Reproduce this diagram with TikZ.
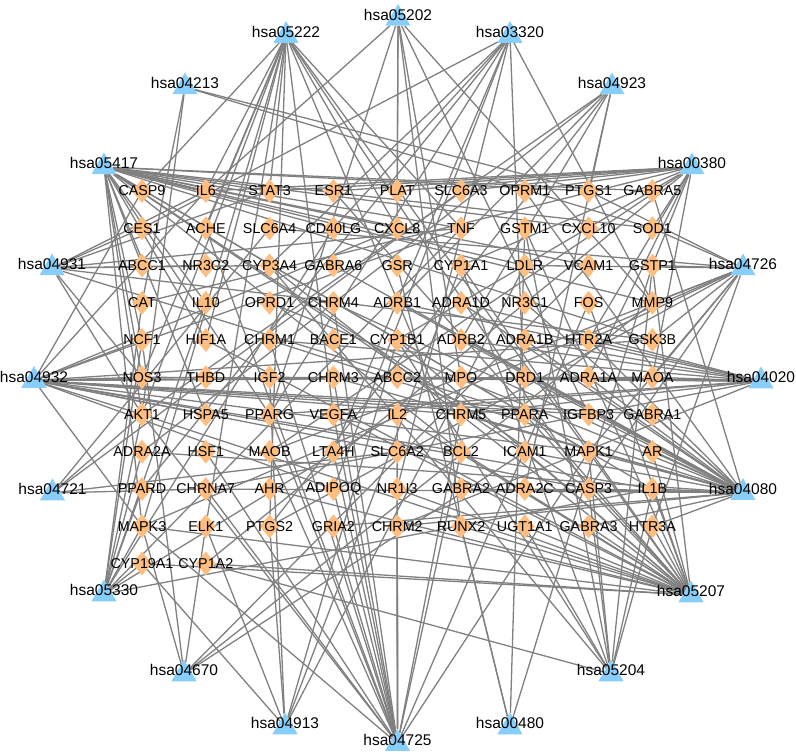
\documentclass[tikz,border=0pt]{standalone}
\usepackage{fontspec}
\setmainfont{Liberation Sans}
\usepackage{tikz}
\usetikzlibrary{shapes.geometric,backgrounds}
\definecolor{geneorange}{RGB}{253,190,128}
\definecolor{keggblue}{RGB}{135,206,250}
\colorlet{linkgray}{black!50}
\tikzstyle{gene}=[diamond,fill=geneorange,minimum width=20,minimum height=24,inner sep=0]
\tikzstyle{kegg}=[regular polygon,regular polygon sides=3,fill=keggblue,minimum size=29,inner sep=0]
\tikzstyle{genelabel}=[font=\fontsize{14.3}{14.3}\selectfont,inner sep=0]
\tikzstyle{kegglabel}=[font=\fontsize{15.5}{15.5}\selectfont,inner sep=0,yshift=3.6pt]
\tikzstyle{link}=[draw=linkgray,line width=1.3]

\begin{document}
\begin{tikzpicture}[x=1pt,y=-1pt]
\useasboundingbox (0,0) rectangle (796,754);

\foreach \generow [count=\r from 0] in {
    {CASP9,IL6,STAT3,ESR1,PLAT,SLC6A3,OPRM1,PTGS1,GABRA5},
    {CES1,ACHE,SLC6A4,CD40LG,CXCL8,TNF,GSTM1,CXCL10,SOD1},
    {ABCC1,NR3C2,CYP3A4,GABRA6,GSR,CYP1A1,LDLR,VCAM1,GSTP1},
    {CAT,IL10,OPRD1,CHRM4,ADRB1,ADRA1D,NR3C1,FOS,MMP9},
    {NCF1,HIF1A,CHRM1,BACE1,CYP1B1,ADRB2,ADRA1B,HTR2A,GSK3B},
    {NOS3,THBD,IGF2,CHRM3,ABCC2,MPO,DRD1,ADRA1A,MAOA},
    {AKT1,HSPA5,PPARG,VEGFA,IL2,CHRM5,PPARA,IGFBP3,GABRA1},
    {ADRA2A,HSF1,MAOB,LTA4H,SLC6A2,BCL2,ICAM1,MAPK1,AR},
    {PPARD,CHRNA7,AHR,ADIPOQ,NR1I3,GABRA2,ADRA2C,CASP3,IL1B},
    {MAPK3,ELK1,PTGS2,GRIA2,CHRM2,RUNX2,UGT1A1,GABRA3,HTR3A},
    {CYP19A1,CYP1A2}}
  \foreach \g [count=\c from 0] in \generow
    \node[gene,label={[genelabel]center:\g}] (\g) at ({142+63.8*\c},{191+37.25*\r}) {};

\foreach \p/\x/\y in {05202/398/18.5, 05222/286/35.6, 03320/510/35.6,
    04213/185/87, 04923/612/87, 05417/104/167, 00380/692/167,
    04931/52/268, 04726/743/268, 04932/34/380.5, 04020/761/381,
    04721/52.5/493, 04080/743/492.6, 05330/104/594, 05207/691/595,
    04670/184/674, 05204/611/674, 04913/285/727, 00480/510/727,
    04725/397.5/743.6}
  \node[kegg,label={[kegglabel]center:hsa\p}] (p\p) at (\x,\y) {};

\begin{scope}[on background layer]
\foreach \p/\genes in {
    05202/{IL6,CXCL8,IGFBP3,PPARG,RUNX2,MPO,MMP9,PLAT},
    05222/{CASP9,IL6,STAT3,AKT1,BCL2,PTGS2,NOS3,CASP3,MAPK1,MAPK3,HIF1A,TNF,VEGFA,CXCL8,ELK1,ACHE},
    03320/{PPARA,PPARG,PPARD,ADIPOQ,MMP9,CD40LG,CYP3A4,LTA4H,NR1I3,CES1},
    04213/{SOD1,CAT,AKT1,PTGS1},
    04923/{ADRB1,ADRB2,AKT1,PTGS1,PTGS2,ADRA2A,ADRA2C},
    05417/{CASP9,IL6,STAT3,CD40LG,CXCL8,TNF,LDLR,VCAM1,MMP9,GSK3B,NOS3,AKT1,HSPA5,IL1B,BCL2,ICAM1,MAPK1,CASP3,MAPK3,PPARG,NCF1,CXCL10,SOD1,PTGS1,IL10,HIF1A,GABRA5,ABCC1},
    00380/{MAOA,MAOB,CAT,CYP1A1,CYP1A2,CYP1B1,IL6,STAT3,ESR1,PLAT,SLC6A3,GSTP1,SOD1,OPRM1,HTR2A,ADRA1A},
    04931/{AKT1,IL6,TNF,GSK3B,NOS3,PPARA,STAT3,CES1,NR3C2,CYP3A4},
    04726/{HTR2A,HTR3A,MAOA,MAOB,SLC6A4,PTGS1,PTGS2,CASP3,MAPK1,MAPK3,GSTP1,SOD1,MMP9,GSK3B,LDLR},
    04932/{AKT1,BCL2,CASP3,CXCL8,GSK3B,IL6,IL1B,TNF,MAPK1,MAPK3,PPARA,ADIPOQ,CASP9,NCF1,HSPA5,MAOA,ADRA1A,GABRA1,MPO,IGFBP3,CHRM5,NOS3,THBD},
    04020/{CHRM1,CHRM2,CHRM3,CHRM5,ADRA1A,ADRA1B,ADRA1D,ADRB1,ADRB2,DRD1,HTR2A,NOS3,CHRNA7,VEGFA,IGF2,PPARG,MAOA,ABCC2},
    04721/{SLC6A2,SLC6A3,SLC6A4,CHRNA7,AKT1},
    04080/{ADRA1A,ADRA1B,ADRA1D,ADRA2A,ADRA2C,ADRB1,ADRB2,CHRM1,CHRM2,CHRM3,CHRM4,CHRM5,CHRNA7,DRD1,GABRA1,GABRA2,GABRA3,GABRA5,GABRA6,GRIA2,HTR2A,HTR3A,OPRD1,OPRM1,NR3C1,IL1B,AR,CASP3,ICAM1,MAPK1,IGFBP3},
    05330/{IL2,IL10,TNF,CD40LG,IL1B,AKT1,MAPK3,CYP19A1,PPARD,ADRA2A,NCF1,CAT},
    05207/{AHR,AKT1,BCL2,CYP1A1,CYP1A2,CYP1B1,CYP3A4,CYP19A1,ESR1,MAPK1,MAPK3,NR1I3,PPARA,UGT1A1,VEGFA,GSTM1,GSTP1,FOS,HIF1A,IL1B,AR,CASP3,IL2,ICAM1,HTR3A,GABRA3,RUNX2,CHRM2},
    04670/{ICAM1,VCAM1,MMP9,NCF1,ELK1,MAPK3},
    05204/{CYP1A1,CYP1A2,CYP1B1,CYP3A4,GSTM1,GSTP1,UGT1A1,CASP3,IL1B,HTR3A,MAPK1},
    04913/{CYP19A1,CYP1A1,CYP1B1,IGF2,LDLR,PTGS2,ELK1},
    00480/{GSR,GSTM1,GSTP1,RUNX2},
    04725/{ACHE,AKT1,BCL2,CHRM1,CHRM2,CHRM3,CHRM4,CHRM5,CHRNA7,FOS,MAPK1,MAPK3,GRIA2,ADIPOQ,LTA4H,SLC6A2,NR1I3,HSF1,PPARG,IL2,VEGFA,MAOB}}
  \foreach \g in \genes
    \draw[link] (p\p) -- (\g);
\end{scope}

\end{tikzpicture}
\end{document}
